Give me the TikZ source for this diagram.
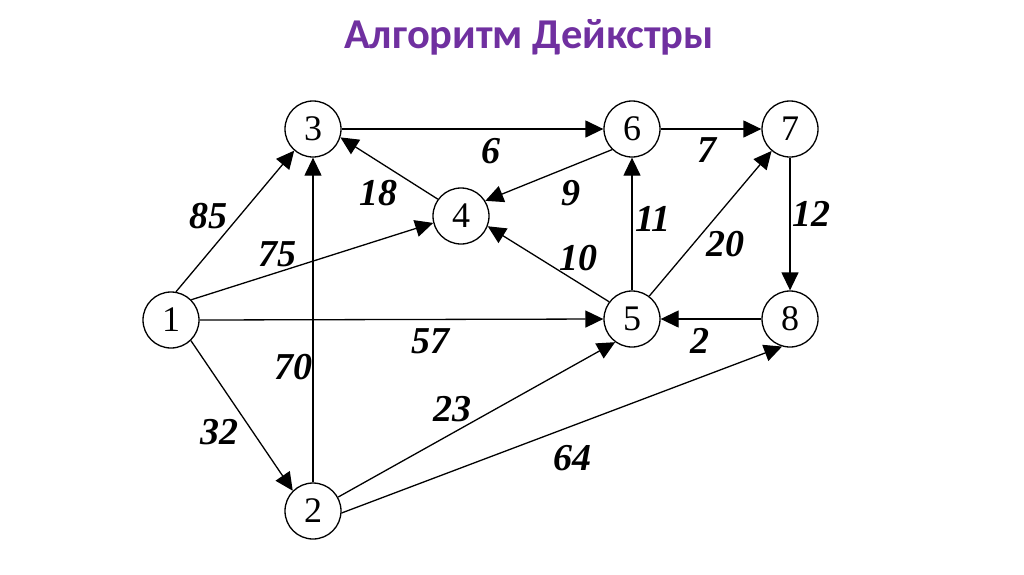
\documentclass[tikz,border=0pt]{standalone}
\usepackage{fontspec}
\setmainfont{Liberation Serif}
\newfontfamily\titlefont{Carlito}
\usetikzlibrary{arrows.meta}
\definecolor{titlepurple}{HTML}{7030A0}
\begin{document}
\begin{tikzpicture}[x=1pt,y=-1pt,
  vertex/.style={circle,draw,line width=1.3pt,minimum size=56pt,inner sep=0pt,
    font=\fontsize{36}{36}\selectfont},
  wlabel/.style={inner sep=0pt,font=\fontsize{38}{38}\selectfont\bfseries\itshape},
  edge/.style={line width=1.3pt,-{Triangle[length=18pt,width=17pt]}},
  title/.style={inner sep=0pt,text=titlepurple,font=\titlefont\fontsize{42.5}{42.5}\selectfont\bfseries}]
\useasboundingbox (0,0) rectangle (1024,574);
\node[title,anchor=base] (t) at (529,48) {Алгоритм Дейкстры};
\node[vertex] (n1) at (171,320) {1};
\node[vertex] (n2) at (313,511) {2};
\node[vertex] (n3) at (313,129) {3};
\node[vertex] (n4) at (461,216) {4};
\node[vertex] (n5) at (632,319) {5};
\node[vertex] (n6) at (632,129) {6};
\node[vertex] (n7) at (790,129) {7};
\node[vertex] (n8) at (790,319) {8};
\draw[edge] (n3.east) -- (n6.west);
\draw[edge] (n6.east) -- (n7.west);
\draw[edge] (n1.80) -- (n3.229);
\draw[edge] (n1.45) -- (n4.194);
\draw[edge] (n1.-46) -- (n2.135);
\draw[edge] (n2.north) -- (n3.south);
\draw[edge] (n1.east) -- (n5.west);
\draw[edge] (n4.144) -- (n3.-17);
\draw[edge] (n6.226) -- (n4.32);
\draw[edge] (n5.143) -- (n4.-21);
\draw[edge] (n5.north) -- (n6.south);
\draw[edge] (n5.53) -- (n7.230);
\draw[edge] (n7.south) -- (n8.north);
\draw[edge] (n8.west) -- (n5.east);
\draw[edge] (n2.29) -- (n5.234);
\draw[edge] (n2.-4) -- (n8.254);
\node[wlabel] (l36) at (491,151) {6};
\node[wlabel] (l67) at (707,150) {7};
\node[wlabel] (l64) at (571,193) {9};
\node[wlabel] (l43) at (378,193) {18};
\node[wlabel] (l13) at (208,216) {85};
\node[wlabel] (l14) at (277,254) {75};
\node[wlabel] (l23) at (293,367) {70};
\node[wlabel] (l15) at (430,341) {57};
\node[wlabel] (l54) at (578,258) {10};
\node[wlabel] (l56) at (653,219) {11};
\node[wlabel] (l57) at (725,244) {20};
\node[wlabel] (l78) at (811,214) {12};
\node[wlabel] (l85) at (700,341) {2};
\node[wlabel] (l12) at (219,432) {32};
\node[wlabel] (l25) at (452,409) {23};
\node[wlabel] (l28) at (572,458) {64};
\end{tikzpicture}
\end{document}
